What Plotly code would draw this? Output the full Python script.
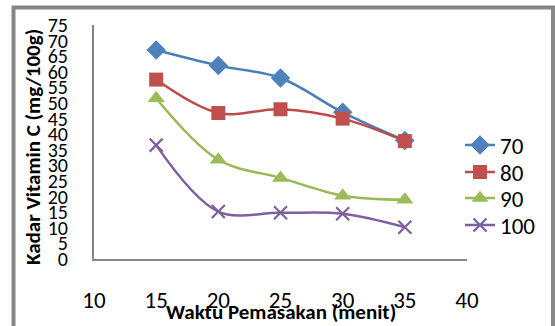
import plotly.graph_objects as go

waktu = [15, 20, 25, 30, 35]
series_names = ["70", "80", "90", "100"]
s70 = [67, 62, 58, 47, 38]
s80 = [57.5, 46.8, 48, 45, 37.8]
s90 = [51.5, 31.8, 26, 20.3, 19]
s100 = [36.5, 15.2, 14.8, 14.5, 10.2]

x_ticks = [10, 15, 20, 25, 30, 35, 40]
y_ticks = [0, 5, 10, 15, 20, 25, 30, 35, 40, 45, 50, 55, 60, 65, 70, 75]

FONT = "Carlito, Liberation Sans, Arial, sans-serif"

styles = [
    dict(color="#4A7EBB", symbol="diamond", size=15, mcolor="#4F81BD"),
    dict(color="#BE4B48", symbol="square", size=14, mcolor="#C0504D"),
    dict(color="#98B954", symbol="triangle-up", size=15, mcolor="#9BBB59"),
    dict(color="#7D60A0", symbol="x-thin", size=13, mcolor="#7D60A0"),
]
legend_ids = ["legend", "legend2", "legend3", "legend4"]
legend_py = [145, 172, 198, 225]

fig = go.Figure()
for name, vals, st, lid in zip(series_names, [s70, s80, s90, s100], styles, legend_ids):
    marker = dict(symbol=st["symbol"], size=st["size"], color=st["mcolor"])
    if st["symbol"] == "x-thin":
        marker["line"] = dict(width=2.2, color=st["mcolor"])
    else:
        marker["line"] = dict(width=0)
    fig.add_trace(go.Scatter(
        x=waktu, y=vals, name=name, mode="lines+markers", legend=lid,
        line=dict(color=st["color"], width=2.5, shape="spline", smoothing=1.0),
        marker=marker,
    ))

legend_layouts = {}
for lid, py in zip(legend_ids, legend_py):
    legend_layouts[lid] = dict(x=(460 - 94) / 373, y=(259 - py) / 234,
                               xanchor="left", yanchor="middle",
                               font=dict(size=23, family=FONT),
                               bgcolor="rgba(0,0,0,0)", borderwidth=0)

fig.update_layout(
    width=555, height=326,
    margin=dict(l=94, r=88, t=25, b=67, autoexpand=False),
    paper_bgcolor="white", plot_bgcolor="white",
    font=dict(family=FONT, color="black"),
    showlegend=True,
    xaxis=dict(range=[10, 40], tickvals=x_ticks, showgrid=False, zeroline=False,
               showline=True, linecolor="#868686", linewidth=2, automargin=False,
               ticks="outside", ticklen=19, tickcolor="rgba(0,0,0,0)",
               tickfont=dict(size=23, family=FONT)),
    yaxis=dict(range=[0, 75], tickvals=y_ticks, showgrid=False, zeroline=False,
               showline=True, linecolor="#868686", linewidth=2, automargin=False,
               ticks="outside", ticklen=20, tickcolor="rgba(0,0,0,0)",
               tickfont=dict(size=20, family=FONT)),
    annotations=[
        dict(text="<b>Waktu Pemasakan (menit)</b>", xref="paper", yref="paper",
             x=(281 - 94) / 373, y=(259 - 312) / 234, xanchor="center", yanchor="middle",
             showarrow=False, font=dict(size=21, family=FONT)),
        dict(text="<b>Kadar Vitamin C (mg/100g)</b>", xref="paper", yref="paper",
             x=(33 - 94) / 373, y=(259 - 147) / 234, xanchor="center", yanchor="middle",
             textangle=-90, showarrow=False, font=dict(size=21, family=FONT)),
    ],
    shapes=[
        dict(type="rect", xref="paper", yref="paper",
             x0=(13.5 - 94) / 373, x1=(553 - 94) / 373,
             y0=(259 - 340) / 234, y1=(259 - 7.5) / 234,
             line=dict(color="#878787", width=4), layer="below"),
    ],
    **legend_layouts,
)

fig.write_html("out.html")
